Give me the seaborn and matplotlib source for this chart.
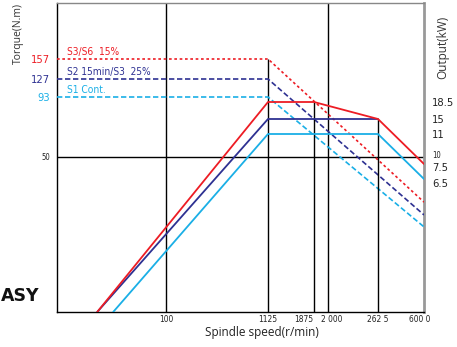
import numpy as np
import pandas as pd
import matplotlib
matplotlib.use("Agg")
import matplotlib.pyplot as plt
import matplotlib.transforms as mtransforms
import seaborn as sns

# ---------------- data ----------------
speed_ticks = [100, 1125, 1875, 2000, 2625, 6000]
speed_tick_labels = ["100", "1125", "1875", "2 000", "262 5", "600 0"]
speed_min = 7.5

torque_ticks = [157, 127, 93, 50]
torque_tick_labels = ["157", "127", "93", "50"]
power_ticks = [18.5, 15, 11, 10, 7.5, 6.5]
power_tick_labels = ["18.5", "15", "11", "10", "7.5", "6.5"]

modes = ["S3/S6  15%", "S2 15min/S3  25%", "S1 Cont."]

# torque curves (dashed)
torque_speed = [speed_min, 1125, 6000]
torque_s3 = [157, 157, 31.3]
torque_s2 = [127, 127, 27.4]
torque_s1 = [93, 93, 24.2]

# power curves (solid)
power_s3_speed = [19.5, 1125, 1875, 2625, 6000]
power_s3 = [2, 18.5, 18.5, 15, 7.5]
power_s2_speed = [19.5, 1125, 2625]
power_s2 = [2, 15, 15]
power_s1_speed = [28.5, 1125, 2625, 6000]
power_s1 = [2, 11, 11, 6.5]

# ---------------- scale anchors (layout of the schematic axes) ----------------
x_anchor_vals = [speed_min, 100, 1125, 1875, 2000, 2625, 6000]
x_anchor_pos = [57, 166, 268, 314, 328, 378, 424]
t_anchor_vals = [10, 50, 93, 127, 157]
t_anchor_pos = [0, 155, 215, 233, 253]
p_anchor_vals = [2, 6.5, 7.5, 10, 11, 15, 18.5]
p_anchor_pos = [0, 133, 148, 155, 178, 193, 210]


def make_scale(vals, pos):
    lv = np.log10(np.asarray(vals, float))
    p = np.asarray(pos, float)
    s0 = (p[1] - p[0]) / (lv[1] - lv[0])
    s1 = (p[-1] - p[-2]) / (lv[-1] - lv[-2])

    def fwd(v):
        x = np.log10(np.clip(np.asarray(v, float), 1e-12, None))
        y = np.interp(x, lv, p)
        y = np.where(x < lv[0], p[0] + (x - lv[0]) * s0, y)
        y = np.where(x > lv[-1], p[-1] + (x - lv[-1]) * s1, y)
        return y

    def inv(q):
        q = np.asarray(q, float)
        x = np.interp(q, p, lv)
        x = np.where(q < p[0], lv[0] + (q - p[0]) / s0, x)
        x = np.where(q > p[-1], lv[-1] + (q - p[-1]) / s1, x)
        return 10 ** x

    return fwd, inv


xf, xi = make_scale(x_anchor_vals, x_anchor_pos)
tf, ti = make_scale(t_anchor_vals, t_anchor_pos)
pf, pi = make_scale(p_anchor_vals, p_anchor_pos)

# ---------------- style ----------------
sns.set_style("white")
plt.rcParams["font.family"] = ["DejaVu Sans"]
plt.rcParams["font.stretch"] = "condensed"

RED = "#ED1C24"
NAVY = "#2E3192"
CYAN = "#1AAFE6"
DARK = "#222222"
colors = [RED, NAVY, CYAN]

W, H = 457, 347
fig = plt.figure(figsize=(W / 100, H / 100), dpi=100)
ax = fig.add_axes([57 / W, 35 / H, (424 - 57) / W, (312 - 3) / H])
ax.set_xscale("function", functions=(xf, xi))
ax.set_yscale("function", functions=(tf, ti))
ax.set_xlim(speed_min, 6000)
ax.set_ylim(10, float(ti(309)))

ax2 = ax.twinx()
ax2.set_yscale("function", functions=(pf, pi))
ax2.set_ylim(2, float(pi(309)))

# black reference lines
ax.axhline(50, color="black", lw=1.0, zorder=1)
ax.axvline(100, color="black", lw=1.0, zorder=1)
ax.axvline(2000, color="black", lw=1.0, zorder=1)
ax.vlines(1125, 10, torque_s3[0], color="black", lw=1.0, zorder=1)
ax2.vlines(1875, 2, power_s3[1], color="black", lw=1.0, zorder=1)
ax2.vlines(2625, 2, power_s2[-1], color="black", lw=1.0, zorder=1)

# torque dashed curves
dash_styles = [(0, (1.6, 1.6)), (0, (3.2, 1.6)), (0, (3.2, 1.6))]
for vals, c, ls in zip([torque_s3, torque_s2, torque_s1], colors, dash_styles):
    df = pd.DataFrame({"speed": torque_speed, "torque": vals})
    sns.lineplot(data=df, x="speed", y="torque", ax=ax, color=c, lw=1.2,
                 linestyle=ls, sort=False, estimator=None, zorder=3)

# power solid curves
for sp, vals, c in zip([power_s2_speed, power_s1_speed, power_s3_speed],
                       [power_s2, power_s1, power_s3], [NAVY, CYAN, RED]):
    df = pd.DataFrame({"speed": sp, "power": vals})
    sns.lineplot(data=df, x="speed", y="power", ax=ax2, color=c, lw=1.3,
                 sort=False, estimator=None, zorder=4)

# mode labels above torque lines
for name, vals, c in zip(modes, [torque_s3, torque_s2, torque_s1], colors):
    ax.annotate(name, xy=(speed_min, vals[0]), xytext=(7, 1.2),
                textcoords="offset points", color=c, fontsize=7.3,
                ha="left", va="bottom")


def shift(label, dx_px, dy_px):
    off = mtransforms.ScaledTranslation(dx_px / 100, dy_px / 100,
                                        fig.dpi_scale_trans)
    label.set_transform(label.get_transform() + off)


# ticks
ax.set_xticks(speed_ticks)
ax.set_xticklabels(speed_tick_labels, fontsize=6, color=DARK)
ax.xaxis.set_minor_locator(matplotlib.ticker.NullLocator())
ax.tick_params(axis="x", length=0, pad=2)
xl = ax.get_xticklabels()
shift(xl[2], -10, 0)
shift(xl[3], 4, 0)
shift(xl[5], -4, 0)

ax.set_yticks(torque_ticks)
ax.set_yticklabels(torque_tick_labels, fontsize=8)
ax.yaxis.set_minor_locator(matplotlib.ticker.NullLocator())
ax.tick_params(axis="y", length=0, pad=5)
yl = ax.get_yticklabels()
for lbl, c in zip(yl, [RED, NAVY, CYAN, DARK]):
    lbl.set_color(c)
yl[-1].set_fontsize(5.5)

ax2.set_yticks(power_ticks)
ax2.set_yticklabels(power_tick_labels, fontsize=8, color=DARK)
ax2.yaxis.set_minor_locator(matplotlib.ticker.NullLocator())
ax2.tick_params(axis="y", length=0, pad=6)
pl = ax2.get_yticklabels()
pl[3].set_fontsize(5.5)
shift(pl[3], 0, 3)
shift(pl[4], 0, -3)
shift(pl[5], 0, -4)

ax.set_xlabel("Spindle speed(r/min)", fontsize=8.5, color=DARK,
              family=["Open Sans", "DejaVu Sans"], fontstretch="normal")
ax.xaxis.set_label_coords((262 - 57) / 367, -0.045)
ax.xaxis.label.set_va("top")
ax.set_ylabel("")
ax2.set_ylabel("")

fig.text(18 / W, 1 - 33 / H, "Torque(N.m)", rotation=90, ha="center",
         va="center", fontsize=7.5, color="#333333",
         family=["Open Sans", "DejaVu Sans"], fontstretch="normal")
fig.text(443 / W, 1 - 47 / H, "Output(kW)", rotation=90, ha="center",
         va="center", fontsize=8.5, color="#333333",
         family=["Open Sans", "DejaVu Sans"], fontstretch="normal")
fig.text(1 / W, 1 - 296 / H, "ASY", ha="left", va="center", fontsize=12.5,
         fontweight="bold", color="#111111", family=["DejaVu Sans"],
         fontstretch="normal")

# spines
for s in ["left", "bottom"]:
    ax.spines[s].set_color("black")
    ax.spines[s].set_linewidth(1.0)
ax.spines["top"].set_color("#888888")
ax.spines["top"].set_linewidth(1.0)
ax.spines["right"].set_color("#999999")
ax.spines["right"].set_linewidth(2.0)
for s in ax2.spines.values():
    s.set_visible(False)
ax.grid(False)
ax2.grid(False)

fig.savefig("out.png", dpi=100)
